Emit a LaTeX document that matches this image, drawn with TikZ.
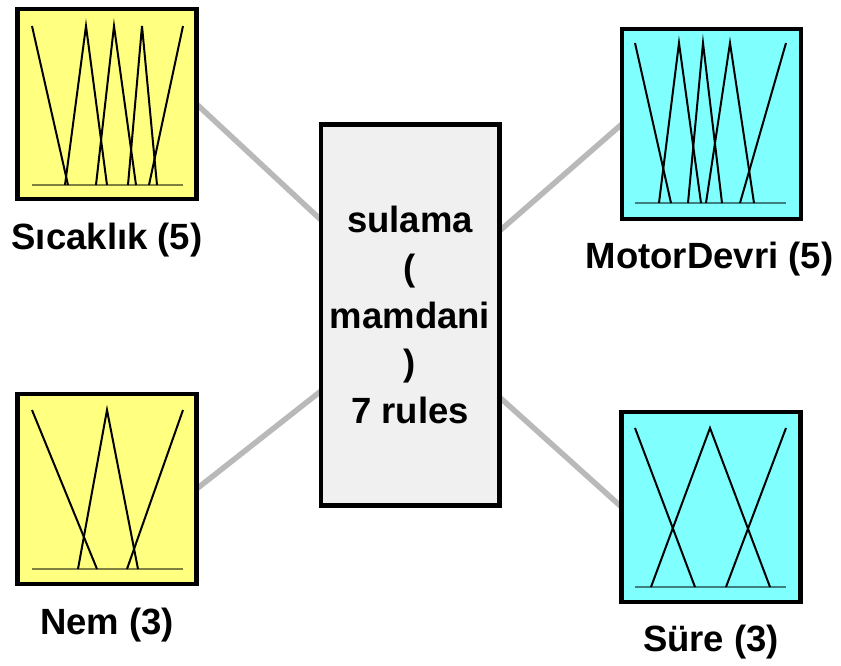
\documentclass[tikz,border=0pt]{standalone}
\usepackage{fontspec}
\setmainfont{Liberation Sans}
\usepackage{tikz}
\usetikzlibrary{calc, positioning, backgrounds}

\definecolor{inyellow}{RGB}{255,255,128}
\definecolor{outcyan}{RGB}{128,255,255}
\definecolor{fisgray}{RGB}{240,240,240}
\definecolor{linkgray}{RGB}{185,185,185}

\begin{document}
\begin{tikzpicture}[
		x=1pt, y=-1pt,
		varbox/.style={rectangle, draw=black, line width=4.5pt, minimum width=179pt, minimum height=190pt, inner sep=0pt, outer sep=0pt},
		fisbox/.style={rectangle, draw=black, fill=fisgray, line width=4.5pt, minimum width=178.5pt, minimum height=381pt, inner sep=0pt, outer sep=0pt, align=center, font=\fontsize{36.5}{47.75}\selectfont\bfseries},
		varlabel/.style={anchor=base, inner sep=0pt, font=\fontsize{36.5}{42}\selectfont\bfseries},
		mf/.style={line width=2pt, black},
		mfbase/.style={line width=2.5pt, black, opacity=0.5},
		link/.style={line width=5.5pt, linkgray}
		]
	
		\useasboundingbox (0,0) rectangle (841,666);
	
		% --- boxes ---
		\node[varbox, fill=inyellow] (sicaklik) at (107, 104) {};
		\node[varbox, fill=inyellow] (nem) at (107, 489) {};
		\node[fisbox] (sulama) at (410, 315) {sulama\\(\\mamdani\\)\\7 rules};
		\node[varbox, fill=outcyan] (motor) at (711.5, 124) {};
		\node[varbox, fill=outcyan] (sure) at (711, 507) {};
	
		% --- labels ---
		\node[varlabel] (sicaklikLbl) at ($(sicaklik.south)+(0,50)$) {Sıcaklık (5)};
		\node[varlabel] (nemLbl) at ($(nem.south)+(0,50)$) {Nem (3)};
		\node[varlabel] (motorLbl) at ($(motor.south)+(-2,49)$) {MotorDevri (5)};
		\node[varlabel] (sureLbl) at ($(sure.south)+(0,49)$) {Süre (3)};
	
		% --- links ---
		\coordinate (inA) at ($(sulama.north west)!0.25!(sulama.south west)$);
		\coordinate (inB) at ($(sulama.north west)!0.70!(sulama.south west)$);
		\coordinate (outA) at ($(sulama.north east)!0.28!(sulama.south east)$);
		\coordinate (outB) at ($(sulama.north east)!0.715!(sulama.south east)$);
		\begin{scope}[on background layer]
			\draw[link] (sicaklik.east) -- (inA);
			\draw[link] (nem.east) -- (inB);
			\draw[link] (outA) -- (motor.west);
			\draw[link] (outB) -- (sure.west);
		\end{scope}
	
		% --- Sicaklik ---
		\begin{scope}[shift={(sicaklik.center)}]
			\draw[mfbase] (-75,81) -- (76,81);
			\draw[mf] (-75,-78) -- (-39,81);
			\draw[mf] (-42,81) -- (-21,-78) -- (0,81);
			\draw[mf] (-11,81) -- (7,-78) -- (29,81);
			\draw[mf] (21,81) -- (35,-78) -- (50,81);
			\draw[mf] (42,81) -- (76,-78);
		\end{scope}
	
		% --- Nem ---
		\begin{scope}[shift={(nem.center)}]
			\draw[mfbase] (-75,80) -- (76,80);
			\draw[mf] (-75,-79) -- (-10,80);
			\draw[mf] (-29,80) -- (0,-79) -- (31,80);
			\draw[mf] (20,80) -- (76,-79);
		\end{scope}
	
		% --- MotorDevri ---
		\begin{scope}[shift={(motor.center)}]
			\draw[mfbase] (-76.5,79) -- (74.5,79);
			\draw[mf] (-76.5,-81) -- (-40.5,79);
			\draw[mf] (-52.5,79) -- (-32.5,-81) -- (-10.5,79);
			\draw[mf] (-23.5,79) -- (-8.5,-81) -- (10.5,79);
			\draw[mf] (-5.5,79) -- (18.5,-81) -- (42.5,79);
			\draw[mf] (28.5,79) -- (74.5,-81);
		\end{scope}
	
		% --- Sure ---
		\begin{scope}[shift={(sure.center)}]
			\draw[mfbase] (-76,80) -- (75,80);
			\draw[mf] (-76,-79) -- (-16,80);
			\draw[mf] (-60,80) -- (-1,-79) -- (59,80);
			\draw[mf] (15,80) -- (75,-79);
		\end{scope}
	
	\end{tikzpicture}
\end{document}
